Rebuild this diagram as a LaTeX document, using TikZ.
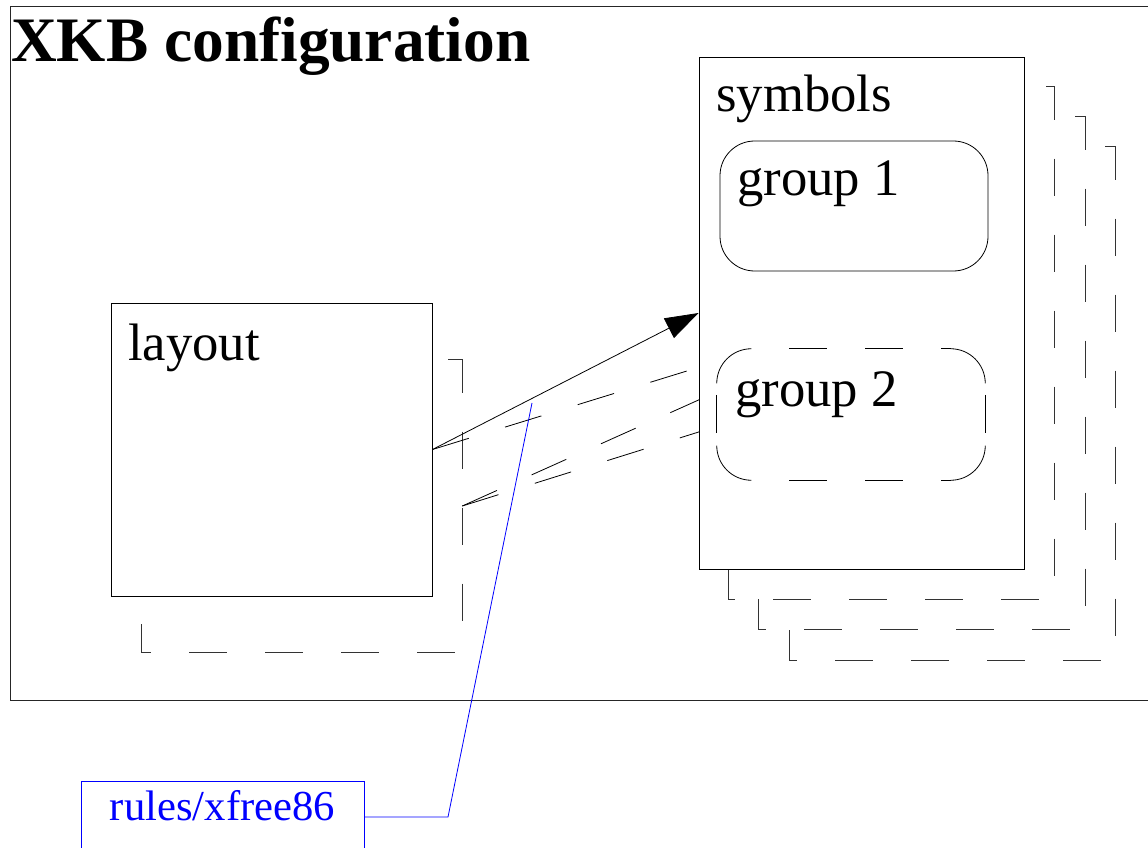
\documentclass[tikz,border=0pt]{standalone}
\usepackage{fontspec}
\setmainfont{Liberation Serif}
\usetikzlibrary{arrows.meta}
% dashed outline of a stacked copy, traced clockwise from just left of its top right corner
\newcommand\stackedge[1]{%
  \draw[stackline] ([xshift=-3pt]#1.north east) -- (#1.north east) -- (#1.south east)
    -- (#1.south west) -- (#1.north west) -- cycle;}
\begin{document}
\begin{tikzpicture}[x=0.75pt,y=-0.75pt,
  sized/.style 2 args={minimum width=#1*0.75pt, minimum height=#2*0.75pt},
  panel/.style={draw=black, fill=white, line width=0.7pt, inner sep=0pt},
  stackbox/.style={fill=white, inner sep=0pt},
  stackline/.style={draw=black!80, line width=0.7pt,
    dash pattern=on 28pt off 29pt},
  groupbox/.style={draw=black, fill=white, line width=0.6pt, inner sep=0pt,
    rounded corners=26pt},
  groupline/.style={draw=black, line width=0.6pt},
  dashline/.style={draw=black, line width=0.6pt, dash pattern=on 28.5pt off 28.5pt},
  caption/.style={anchor=base west, inner sep=0pt, font=\fontsize{39.5}{42}\selectfont},
  title/.style={anchor=base west, inner sep=0pt, font=\bfseries\fontsize{47.5}{50}\selectfont},
  rulebox/.style={draw=blue, text=blue, line width=0.6pt, inner sep=0pt,
    font=\fontsize{32}{34}\selectfont, text height=0.69em, text depth=0.2em},
  hint/.style={draw=blue, line width=0.6pt},
  link/.style={draw=black, line width=0.6pt, -{Triangle[length=25pt,width=16.5pt]}}
]
\useasboundingbox (0,0) rectangle (1148,848);

% outer frame
\node[draw=black!85, line width=0.7pt, inner sep=0pt, sized={1170}{694}, anchor=north west]
  (config) at (10,6) {};
\node[title] (heading) at (11,62) {XKB configuration};

% layout and its stacked copy
\node[stackbox, sized={320}{292}] (layoutshadow) at (302,506) {};
\stackedge{layoutshadow}
\node[panel, sized={321}{293}] (layout) at (271.5,449.5) {};
\node[caption] (layoutlabel) at (128,360) {layout};

% stacked copies of the symbols panel, back to front
\node[stackbox, sized={325}{513}] (shadow3) at (952.5,403.5) {};
\stackedge{shadow3}
\node[stackbox, sized={326}{512}] (shadow2) at (922,373) {};
\stackedge{shadow2}
\node[stackbox, sized={325}{512}] (shadow1) at (891.5,343) {};
\stackedge{shadow1}
\coordinate (s1in) at (729,358);

% links from the layout copies (their ends run under the symbols panel)
\draw[dashline] (layout.east) -- (s1in);
\draw[dashline] (layoutshadow.east) -- (shadow2.west);
\draw[dashline] (layoutshadow.east) -- (shadow3.west);

% symbols panel with its groups
\node[panel, sized={325}{512}] (symbols) at (861.5,313) {};
\node[caption] (symbolslabel) at (716,112) {symbols};
\node[groupbox, sized={268}{130}] (group1) at (854,206) {};
\node[caption] (group1label) at (737,196) {group 1};

% group 2: solid rounded corners, dashed straight sides
\node[inner sep=0pt, sized={268}{131}] (group2) at (851,414.5) {};
\begin{scope}[groupline, rounded corners=26pt]
  \draw ([yshift=-26pt]group2.north west) -- (group2.north west) -- ([xshift=26pt]group2.north west);
  \draw ([xshift=-26pt]group2.north east) -- (group2.north east) -- ([yshift=-26pt]group2.north east);
  \draw ([yshift=26pt]group2.south east) -- (group2.south east) -- ([xshift=-26pt]group2.south east);
  \draw ([xshift=26pt]group2.south west) -- (group2.south west) -- ([yshift=26pt]group2.south west);
\end{scope}
\begin{scope}[groupline, dash pattern=on 28.5pt off 28.5pt]
  \draw[dash phase=28.5pt] ([xshift=26pt]group2.north west) -- ([xshift=-26pt]group2.north east);
  \draw[dash phase=28.5pt] ([xshift=26pt]group2.south west) -- ([xshift=-26pt]group2.south east);
  \draw[dash phase=48.4pt] ([yshift=-26pt]group2.north west) -- ([yshift=26pt]group2.south west);
  \draw[dash phase=48.4pt] ([yshift=-26pt]group2.north east) -- ([yshift=26pt]group2.south east);
\end{scope}
\node[caption] (group2label) at (735,406) {group 2};

% main link
\draw[link] (layout.east) -- (symbols.west);

% rules annotation
\node[rulebox, sized={283}{72}] (rules) at (222.5,817) {rules/xfree86};
\coordinate (rulesbend) at (448,817);
\coordinate (rulestip) at (532,403);
\draw[hint] (rules.east) -- (rulesbend) -- (rulestip);
\end{tikzpicture}
\end{document}
